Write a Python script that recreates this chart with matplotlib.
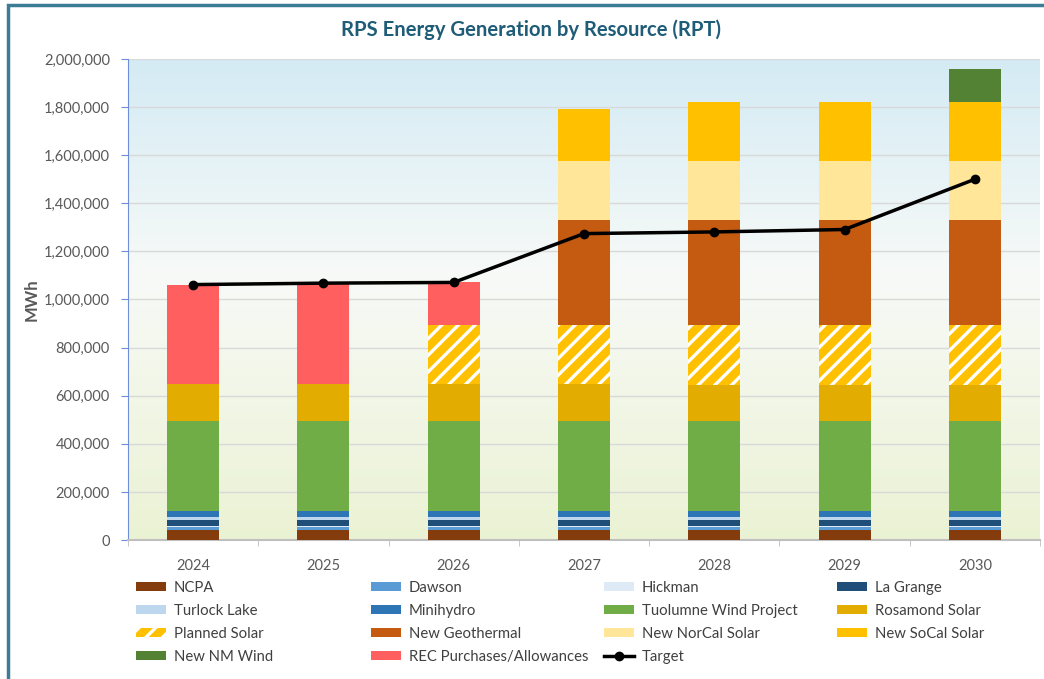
import numpy as np
import matplotlib
matplotlib.use("Agg")
import matplotlib.pyplot as plt
from matplotlib.patches import Patch, Rectangle
from matplotlib.lines import Line2D
from matplotlib.ticker import FuncFormatter, MultipleLocator

years = ["2024", "2025", "2026", "2027", "2028", "2029", "2030"]

# Annual energy by resource (MWh), stacked bottom to top
ncpa        = [42000, 42000, 42000, 42000, 42000, 42000, 42000]
dawson      = [13000, 13000, 13000, 13000, 13000, 13000, 13000]
hickman     = [3000, 3000, 3000, 3000, 3000, 3000, 3000]
la_grange   = [27000, 27000, 27000, 27000, 27000, 27000, 27000]
turlock     = [10000, 10000, 10000, 10000, 10000, 10000, 10000]
minihydro   = [25000, 25000, 25000, 25000, 25000, 25000, 25000]
tuolumne    = [375000, 375000, 375000, 375000, 373000, 373000, 373000]
rosamond    = [155000, 152000, 153000, 155000, 152000, 152000, 151000]
planned     = [0, 0, 248000, 246000, 251000, 251000, 252000]
geothermal  = [0, 0, 0, 433000, 433000, 433000, 433000]
norcal      = [0, 0, 0, 245000, 245000, 245000, 245000]
socal       = [0, 0, 0, 218000, 247000, 247000, 246000]
nm_wind     = [0, 0, 0, 0, 0, 0, 137000]
rec         = [412000, 417000, 176000, 0, 0, 0, 0]
target      = [1062000, 1068000, 1071000, 1274000, 1281000, 1291000, 1500000]

series = [
    ("NCPA", ncpa, "#843C0C", None),
    ("Dawson", dawson, "#5B9BD5", None),
    ("Hickman", hickman, "#DEEBF7", None),
    ("La Grange", la_grange, "#1F4E79", None),
    ("Turlock Lake", turlock, "#BDD7EE", None),
    ("Minihydro", minihydro, "#2E75B6", None),
    ("Tuolumne Wind Project", tuolumne, "#70AD47", None),
    ("Rosamond Solar", rosamond, "#E2AC00", None),
    ("Planned Solar", planned, "#FFC000", "//"),
    ("New Geothermal", geothermal, "#C55A11", None),
    ("New NorCal Solar", norcal, "#FFE699", None),
    ("New SoCal Solar", socal, "#FFC000", None),
    ("New NM Wind", nm_wind, "#548235", None),
    ("REC Purchases/Allowances", rec, "#FF5F5F", None),
]

plt.rcParams["font.family"] = ["Lato", "DejaVu Sans"]
plt.rcParams["hatch.linewidth"] = 2.4
plt.rcParams["hatch.color"] = "white"

fig = plt.figure(figsize=(10.44, 6.79), dpi=100)
ax = fig.add_axes([128 / 1044, 1 - 540 / 679, 912 / 1044, 481 / 679])

# Outer chart frame
fig.patches.append(Rectangle((8 / 1044, -0.05), 1.2, 1 - 5 / 679 + 0.05,
                             transform=fig.transFigure, fill=False,
                             edgecolor="#3C7D95", linewidth=2.5, zorder=0))

# Plot-area gradient: pale blue at top, near white mid, pale green at bottom
top_c = np.array([0.83, 0.92, 0.96])
mid_c = np.array([0.97, 0.98, 0.97])
bot_c = np.array([0.92, 0.95, 0.83])
t = np.linspace(0, 1, 256)[:, None]
grad = np.where(t < 0.45, top_c + (mid_c - top_c) * (t / 0.45),
                mid_c + (bot_c - mid_c) * ((t - 0.45) / 0.55))
grad = np.repeat(grad[:, None, :], 2, axis=1)
ax.imshow(grad, extent=[0, 1, 0, 1], transform=ax.transAxes,
          aspect="auto", zorder=0, origin="upper")

x = np.arange(len(years))
width = 0.4
bottom = np.zeros(len(years))
handles = {}
for name, vals, color, hatch in series:
    v = np.array(vals, dtype=float)
    ax.bar(x, v, width, bottom=bottom, color=color, hatch=hatch,
           edgecolor="white" if hatch else color, linewidth=0, zorder=3)
    bottom += v
    handles[name] = Patch(facecolor=color, hatch=hatch,
                          edgecolor="white" if hatch else color, linewidth=0)

ax.plot(x, target, color="black", linewidth=2.5, marker="o",
        markersize=6, zorder=5)
handles["Target"] = Line2D([], [], color="black", linewidth=2.5,
                           marker="o", markersize=6)

ax.set_xlim(-0.5, len(years) - 0.5)
ax.set_ylim(0, 2000000)
ax.yaxis.set_major_locator(MultipleLocator(200000))
ax.yaxis.set_major_formatter(FuncFormatter(lambda v, p: f"{int(v):,}"))
ax.grid(axis="y", color="#D9D9D9", linewidth=1, zorder=1)
ax.set_axisbelow(True)

ax.set_xticks(x)
ax.set_xticklabels(years)
ax.set_xticks(np.arange(-0.5, len(years), 1), minor=True)
ax.tick_params(axis="x", which="major", length=0, pad=14,
               labelsize=10.5, labelcolor="#595959")
ax.tick_params(axis="x", which="minor", length=4, color="#BFBFBF")
ax.tick_params(axis="y", length=5, color="#6E8FD8", labelsize=10.5,
               labelcolor="#595959", pad=8)

for s in ["top", "right"]:
    ax.spines[s].set_visible(False)
ax.spines["left"].set_color("#6E8FD8")
ax.spines["bottom"].set_color("#BFBFBF")
ax.spines["bottom"].set_linewidth(1.5)

ax.set_ylabel("MWh", fontsize=12, fontweight="bold", color="#595959",
              labelpad=3)

fig.text(531 / 1044, 1 - 30 / 679, "RPS Energy Generation by Resource (RPT)",
         ha="center", va="center", fontsize=14.6, fontweight="bold",
         color="#1F5C78")

# Legend: four fixed-width columns, read row-wise
columns = [
    ["NCPA", "Turlock Lake", "Planned Solar", "New NM Wind"],
    ["Dawson", "Minihydro", "New Geothermal", "REC Purchases/Allowances"],
    ["Hickman", "Tuolumne Wind Project", "New NorCal Solar", "Target"],
    ["La Grange", "Rosamond Solar", "New SoCal Solar"],
]
col_x = [136, 371, 604, 837]
for cx, names in zip(col_x, columns):
    fig.legend([handles[n] for n in names], names, loc="upper left",
               bbox_to_anchor=(cx / 1044, 1 - 581 / 679),
               frameon=False, fontsize=10.7, labelcolor="#404040",
               handlelength=2.05, handleheight=0.6, handletextpad=0.5,
               labelspacing=0.6, borderpad=0, borderaxespad=0)

fig.savefig("out.png", dpi=100)
